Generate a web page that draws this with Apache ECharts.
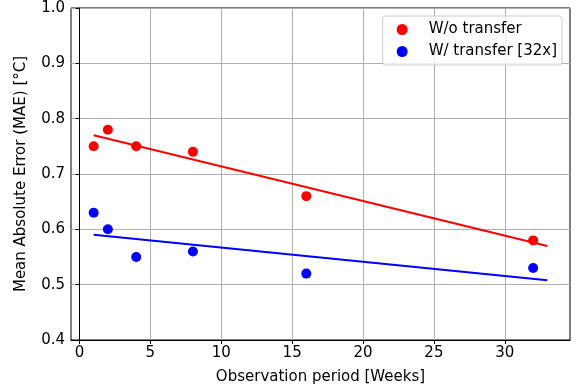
<!DOCTYPE html>
<html><head><meta charset="utf-8">
<script src="https://cdn.jsdelivr.net/npm/echarts@6/dist/echarts.min.js"></script>
<style>html,body{margin:0;padding:0;background:#fff}#c{width:578px;height:392px}</style>
</head><body><div id="c"></div>
<script>
const weeks = [1, 2, 4, 8, 16, 32];
const maeNoTransfer = [0.75, 0.78, 0.75, 0.74, 0.66, 0.58];
const maeTransfer = [0.63, 0.60, 0.55, 0.56, 0.52, 0.53];
const fitX = [1, 33];
const fitNoTransfer = [0.770, 0.570];
const fitTransfer = [0.590, 0.508];
const xTicks = [0, 5, 10, 15, 20, 25, 30];
const names = ['W/o transfer', 'W/ transfer [32x]'];

const zip = (xs, ys) => xs.map((x, i) => [x, ys[i]]);
const font = 'DejaVu Sans';
const fs = 15;
const chart = echarts.init(document.getElementById('c'), null, {renderer: 'canvas'});
chart.setOption({
  animation: false,
  textStyle: {fontFamily: font},
  grid: {left: 71, top: 8, right: 8, bottom: 52, show: true, borderColor: '#000', borderWidth: 1},
  legend: {
    data: names, top: 16, right: 16, orient: 'vertical', itemGap: 7,
    icon: 'circle', itemWidth: 11, itemHeight: 11,
    padding: [6, 5, 6, 14],
    textStyle: {fontSize: fs, color: '#000', fontFamily: font, padding: [0, 0, 0, 16]},
    borderColor: '#ccc', borderWidth: 1, borderRadius: 3, backgroundColor: 'rgba(255,255,255,0.8)'
  },
  xAxis: {
    type: 'value', min: -0.6, max: 34.6,
    name: 'Observation period [Weeks]', nameLocation: 'middle', nameGap: 30,
    nameTextStyle: {fontSize: fs, color: '#000', fontFamily: font},
    axisLine: {show: true, onZero: false, lineStyle: {color: '#000'}},
    axisTick: {show: true, customValues: xTicks, length: 4, lineStyle: {color: '#000'}},
    axisLabel: {customValues: xTicks, fontSize: fs, color: '#000', margin: 6, fontFamily: font},
    splitLine: {show: true, lineStyle: {color: '#b0b0b0', width: 1}}
  },
  yAxis: {
    type: 'value', min: 0.4, max: 1.0, interval: 0.1,
    name: 'Mean Absolute Error (MAE) [°C]', nameLocation: 'middle', nameGap: 42,
    nameTextStyle: {fontSize: fs, color: '#000', fontFamily: font},
    axisLine: {show: true, lineStyle: {color: '#000'}},
    axisTick: {show: true, length: 4, lineStyle: {color: '#000'}},
    axisLabel: {fontSize: fs, color: '#000', margin: 6, fontFamily: font, formatter: v => v.toFixed(1)},
    splitLine: {show: true, lineStyle: {color: '#b0b0b0', width: 1}}
  },
  series: [
    {name: names[0], type: 'scatter', data: zip(weeks, maeNoTransfer), symbolSize: 10, itemStyle: {color: '#ff0000', opacity: 1}, z: 3},
    {name: names[1], type: 'scatter', data: zip(weeks, maeTransfer), symbolSize: 10, itemStyle: {color: '#0000ff', opacity: 1}, z: 3},
    {type: 'line', data: zip(fitX, fitNoTransfer), showSymbol: false, lineStyle: {color: '#ff0000', width: 2}, z: 2},
    {type: 'line', data: zip(fitX, fitTransfer), showSymbol: false, lineStyle: {color: '#0000ff', width: 2}, z: 2}
  ]
});
</script></body></html>
